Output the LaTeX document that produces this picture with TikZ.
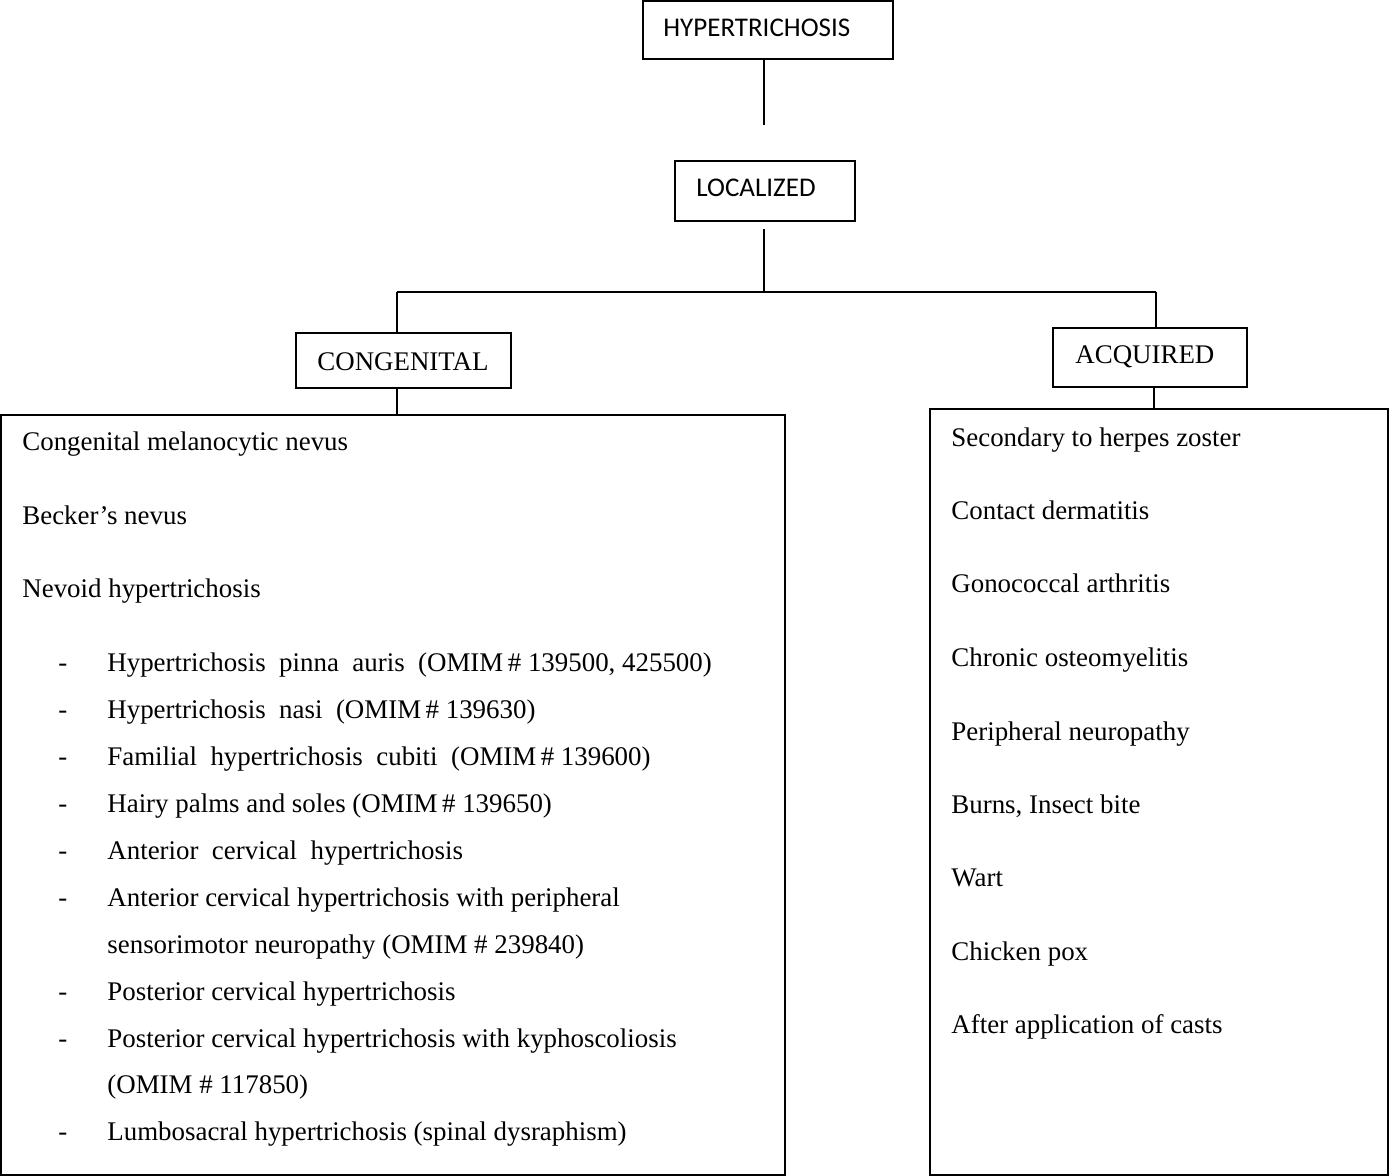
\documentclass[tikz,border=0pt]{standalone}
\usepackage{fontspec}
\setmainfont{Liberation Serif}
\newfontfamily\calfont{Carlito}
\begin{document}
\begin{tikzpicture}[x=0.5pt,y=-0.5pt,
  box/.style={draw, line width=1pt, inner sep=0pt, outer sep=0pt, anchor=north west},
  conn/.style={line width=1pt},
  lab/.style={anchor=base west, inner sep=0pt, font=\fontsize{13.45}{15}\selectfont},
  sanslab/.style={anchor=base west, inner sep=0pt, font=\calfont\fontsize{13.5}{15}\selectfont},
  dashlab/.style={anchor=base west, inner sep=0pt, font=\fontsize{13.45}{15}\selectfont}]
\useasboundingbox (0,0) rectangle (1390,1176);
% boxes
\node[box, minimum width=125pt, minimum height=29pt] (hyp) at (643,1) {};
\node[box, minimum width=90pt, minimum height=30pt] (loc) at (675,161) {};
\node[box, minimum width=107.5pt, minimum height=27.5pt] (con) at (296,333) {};
\node[box, minimum width=97pt, minimum height=29.5pt] (acq) at (1053,328) {};
\node[box, minimum width=392pt, minimum height=380pt] (left) at (1,415) {};
\node[box, minimum width=229pt, minimum height=383pt] (right) at (930,409) {};
% box labels
\node[sanslab] (thyp) at (663,37) {HYPERTRICHOSIS};
\node[sanslab] (tloc) at (696,197) {LOCALIZED};
\node[lab] (tcon) at (317,370) {CONGENITAL};
\node[lab] (tacq) at (1075,364) {ACQUIRED};
% connectors
\coordinate (hypend) at (764,125);
\coordinate (locstart) at (764,229);
\coordinate (split) at (764,292);
\coordinate (lcorner) at (397,292);
\coordinate (rcorner) at (1156,292);
\draw[conn] (hyp.south -| hypend) -- (hypend);
\draw[conn] (locstart) -- (split);
\draw[conn] (lcorner) -- (rcorner);
\draw[conn] (lcorner) -- (lcorner |- con.north);
\draw[conn] (rcorner) -- (rcorner |- acq.north);
\draw[conn] (con.south -| lcorner) -- (left.north -| lcorner);
\draw[conn] (acq.south -| 1154,0) -- (right.north -| 1154,0);
% left list
\node[lab] (l1) at (22,450) {Congenital melanocytic nevus};
\node[lab] (l2) at (22,524) {Becker’s nevus};
\node[lab] (l3) at (22,597) {Nevoid hypertrichosis};
\foreach \y/\t [count=\i] in {
  671/{Hypertrichosis\ \ pinna\ \ auris\ \ (OMIM\,\#\ 139500, 425500)},
  718/{Hypertrichosis\ \ nasi\ \ (OMIM\,\#\ 139630)},
  765/{Familial\ \ hypertrichosis\ \ cubiti\ \ (OMIM\,\#\ 139600)},
  812/{Hairy palms and soles (OMIM\,\#\ 139650)},
  859/{Anterior\ \ cervical\ \ hypertrichosis},
  906/{Anterior cervical hypertrichosis with peripheral},
  1000/{Posterior cervical hypertrichosis},
  1047/{Posterior cervical hypertrichosis with kyphoscoliosis},
  1140/{Lumbosacral hypertrichosis (spinal dysraphism)}}{
  \node[dashlab] (d\i) at (58,\y) {-};
  \node[lab] (s\i) at (107,\y) {\t};
}
\node[lab] (s6b) at (107,953) {sensorimotor neuropathy (OMIM \#\ 239840)};
\node[lab] (s8b) at (107,1093) {(OMIM \#\ 117850)};
% right list
\foreach \y/\t [count=\i] in {
  446/{Secondary to herpes zoster},
  519/{Contact dermatitis},
  592/{Gonococcal arthritis},
  666/{Chronic osteomyelitis},
  740/{Peripheral neuropathy},
  813/{Burns, Insect bite},
  886/{Wart},
  960/{Chicken pox},
  1033/{After application of casts}}{
  \node[lab] (r\i) at (951,\y) {\t};
}
\end{tikzpicture}
\end{document}
